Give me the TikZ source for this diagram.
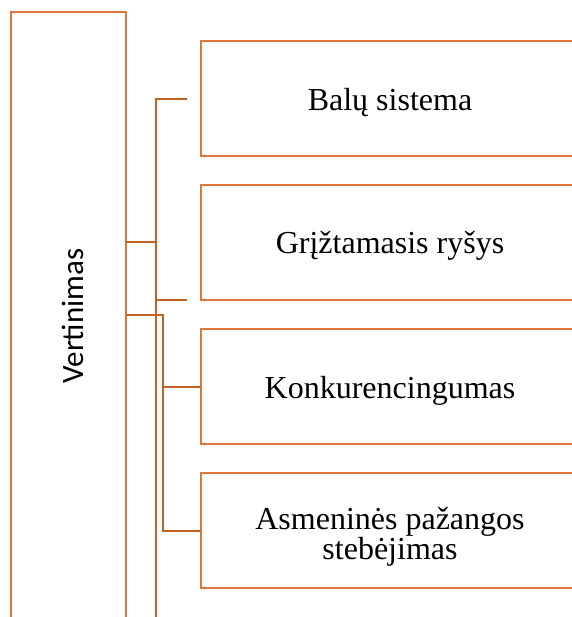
\documentclass[tikz,border=0pt]{standalone}
\usepackage{fontspec}
\setmainfont{Liberation Serif}
\newfontfamily\carlito{Carlito}
\definecolor{boxc}{HTML}{E0773A}
\definecolor{linec}{HTML}{C4621F}
\begin{document}
\begin{tikzpicture}[x=1pt,y=-1pt,
  boxline/.style={draw=boxc,line width=2.4pt},
  conn/.style={draw=linec,line width=2.4pt},
  lbl/.style={font=\fontsize{32}{30}\selectfont,align=center,inner sep=0pt,anchor=base}]
\useasboundingbox (0,0) rectangle (571,617);
% main box (open at bottom)
\draw[boxline] (11,620) -- (11,12) -- (126,12) -- (126,620);
\node[font=\carlito\fontsize{31}{36}\selectfont,rotate=90,inner sep=0pt,anchor=base] (v) at (83,316) {Vertinimas};
\coordinate (m1) at (126,242);
\coordinate (m2) at (126,315);
% right boxes (open at right)
\foreach \t/\n in {41/b1,185/b2,329/b3,473/b4}{
  \draw[boxline] (580,\t) -- (201,\t) -- (201,\t+115) -- (580,\t+115);
  \coordinate (\n) at (201,\t+58);
}
\node[lbl] (t1) at (390,111) {Balų sistema};
\node[lbl] (t2) at (390,254) {Grįžtamasis ryšys};
\node[lbl] (t3) at (390,398) {Konkurencingumas};
\node[lbl,anchor=north] (t4) at (390,507) {Asmeninės pažangos\\stebėjimas};
% connectors group 1
\coordinate (j1) at (156,242);
\coordinate (s1) at (187,99);
\coordinate (s2) at (187,300);
\coordinate (bot) at (156,620);
\draw[conn] (m1) -- (j1);
\draw[conn] (s1) -- (156,99) -- (bot);
\draw[conn] (s2) -- (156,300);
% connectors group 2
\coordinate (j2) at (163,315);
\draw[conn] (m2) -- (j2) -- (163,531) -- (201,531);
\draw[conn] (163,387) -- (201,387);
\end{tikzpicture}
\end{document}
